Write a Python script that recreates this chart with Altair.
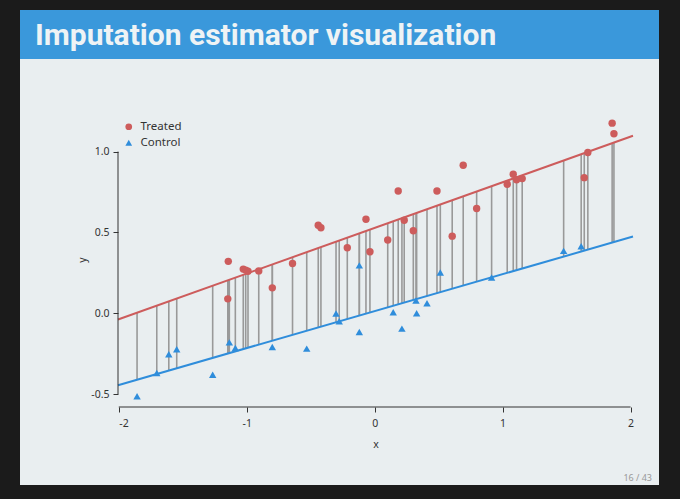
import altair as alt
import pandas as pd

# ---------------- data ----------------
treated_x = [-1.144, -1.148, -1.027, -1.008, -0.990, -0.906, -0.800, -0.642, -0.441, -0.420,
             -0.214, -0.068, -0.037, 0.102, 0.184, 0.231, 0.302, 0.487, 0.606, 0.692,
             0.797, 1.036, 1.083, 1.109, 1.153, 1.638, 1.666, 1.856, 1.870]
treated_y = [0.321, 0.089, 0.273, 0.267, 0.260, 0.262, 0.157, 0.308, 0.544, 0.529,
             0.405, 0.581, 0.380, 0.453, 0.756, 0.575, 0.510, 0.756, 0.477, 0.916,
             0.648, 0.798, 0.860, 0.826, 0.833, 0.839, 0.994, 1.176, 1.110]
control_x = [-1.857, -1.703, -1.609, -1.547, -1.266, -1.136, -1.089, -0.800, -0.531, -0.302,
             -0.277, -0.120, -0.120, 0.145, 0.213, 0.323, 0.328, 0.409, 0.513, 0.914,
             1.477, 1.614]
control_y = [-0.513, -0.370, -0.254, -0.223, -0.380, -0.180, -0.215, -0.209, -0.219, -0.002,
             -0.050, 0.296, -0.116, 0.006, -0.095, 0.079, 0.000, 0.062, 0.252, 0.221,
             0.386, 0.415]
groups = ["Treated", "Control"]
fit_intercepts = [0.528, 0.013]   # fitted lines (treated, control)
fit_slopes = [0.2825, 0.2285]
x_ticks = [-2, -1, 0, 1, 2]
y_ticks = [-0.5, 0.0, 0.5, 1.0]
x_domain = [-2.006, 2.019]
y_domain = [-0.58, 1.245]
title_text = "Imputation estimator visualization"
page_text = "16 / 43"

# ---------------- layout ----------------
W, H = 680, 499
PL, PT = 118, 112          # plot-area origin in the page
PW, PH = 515, 295          # plot-area size
RED = "#cd5c5c"
BLUE = "#2f8ddb"
SLIDE = "#e9eef0"
FONT = "Noto Sans"

pts = pd.DataFrame({
    "group": ["Treated"] * len(treated_x) + ["Control"] * len(control_x),
    "x": treated_x + control_x,
    "y": treated_y + control_y,
})
all_x = treated_x + control_x
seg = pd.DataFrame({
    "x": all_x,
    "yt": [fit_intercepts[0] + fit_slopes[0] * v for v in all_x],
    "yc": [fit_intercepts[1] + fit_slopes[1] * v for v in all_x],
})
lines = pd.DataFrame({
    "group": [g for g in groups for _ in x_domain],
    "x": x_domain * 2,
    "y": [fit_intercepts[i] + fit_slopes[i] * v for i in range(2) for v in x_domain],
})
one = pd.DataFrame({"k": [0]})

xs = alt.Scale(domain=x_domain, nice=False, zero=False)
ys = alt.Scale(domain=y_domain, nice=False, zero=False)
col = alt.Scale(domain=groups, range=[RED, BLUE])
shp = alt.Scale(domain=groups, range=["circle", "triangle-up"])
hyphen = "replace(datum.label, '\u2212', '-')"

slide = alt.Chart(one).mark_rect(color=SLIDE).encode(
    x=alt.value(20 - PL), x2=alt.value(659 - PL),
    y=alt.value(10 - PT), y2=alt.value(485 - PT))
bar = alt.Chart(one).mark_rect(color="#3a98db").encode(
    x=alt.value(20 - PL), x2=alt.value(659 - PL),
    y=alt.value(10 - PT), y2=alt.value(59 - PT))
title = alt.Chart(one).mark_text(
    text=title_text, font="Roboto", fontWeight="bold", fontSize=30,
    color="#eef3f5", align="left", baseline="alphabetic").encode(
    x=alt.value(35 - PL), y=alt.value(45 - PT))
page = alt.Chart(one).mark_text(
    text=page_text, font=FONT, fontSize=9, color="#999999", align="right",
    baseline="middle").encode(x=alt.value(652 - PL), y=alt.value(478 - PT))

segs = alt.Chart(seg).mark_rule(color="#999999", strokeWidth=1.6).encode(
    x=alt.X("x:Q", scale=xs,
            axis=alt.Axis(values=x_ticks, domain=False, grid=False, tickSize=5,
                          tickColor="#333333", labelPadding=6, title="x",
                          titlePadding=11, format="d", labelExpr=hyphen, zindex=1)),
    y=alt.Y("yt:Q", scale=ys,
            axis=alt.Axis(values=y_ticks, domain=False, grid=False, tickSize=5,
                          tickColor="#333333", labelPadding=4, title="y",
                          titlePadding=3, format=".1f", labelExpr=hyphen, zindex=1)),
    y2="yc:Q")

abl = alt.Chart(lines).mark_line(strokeWidth=2).encode(
    x=alt.X("x:Q", scale=xs), y=alt.Y("y:Q", scale=ys),
    color=alt.Color("group:N", scale=col),
    detail="group:N")

points = alt.Chart(pts).mark_point(filled=True, opacity=1, size=55).encode(
    x=alt.X("x:Q", scale=xs), y=alt.Y("y:Q", scale=ys),
    color=alt.Color("group:N", scale=col, title=None,
                    legend=alt.Legend(orient="none", legendX=5, legendY=9,
                                      labelFontSize=11.5, labelFont=FONT,
                                      labelColor="#333333", symbolSize=45,
                                      symbolStrokeWidth=0, rowPadding=3,
                                      labelOffset=6, padding=0, zindex=2)),
    shape=alt.Shape("group:N", scale=shp, title=None))

xline = alt.Chart(one).mark_rule(color="#333333", strokeWidth=1).encode(
    x=alt.datum(x_ticks[0]), x2=alt.datum(x_ticks[-1]), y=alt.value(PH))
yline = alt.Chart(one).mark_rule(color="#333333", strokeWidth=1).encode(
    y=alt.datum(y_ticks[0]), y2=alt.datum(y_ticks[-1]), x=alt.value(0))

chart = alt.layer(slide, bar, title, page, segs, abl, points, xline, yline).properties(
    width=PW, height=PH,
    padding={"left": PL, "top": PT, "right": W - PL - PW, "bottom": H - PT - PH},
    autosize=alt.AutoSizeParams(type="none"),
    background="#1b1b1b",
).configure_view(stroke=None).configure_axis(
    labelFont=FONT, labelFontSize=10.5, labelColor="#333333",
    titleFont=FONT, titleFontSize=10.5, titleColor="#333333", titleFontWeight="normal")

chart.save("out.html", embed_options={"renderer": "svg", "actions": False})
